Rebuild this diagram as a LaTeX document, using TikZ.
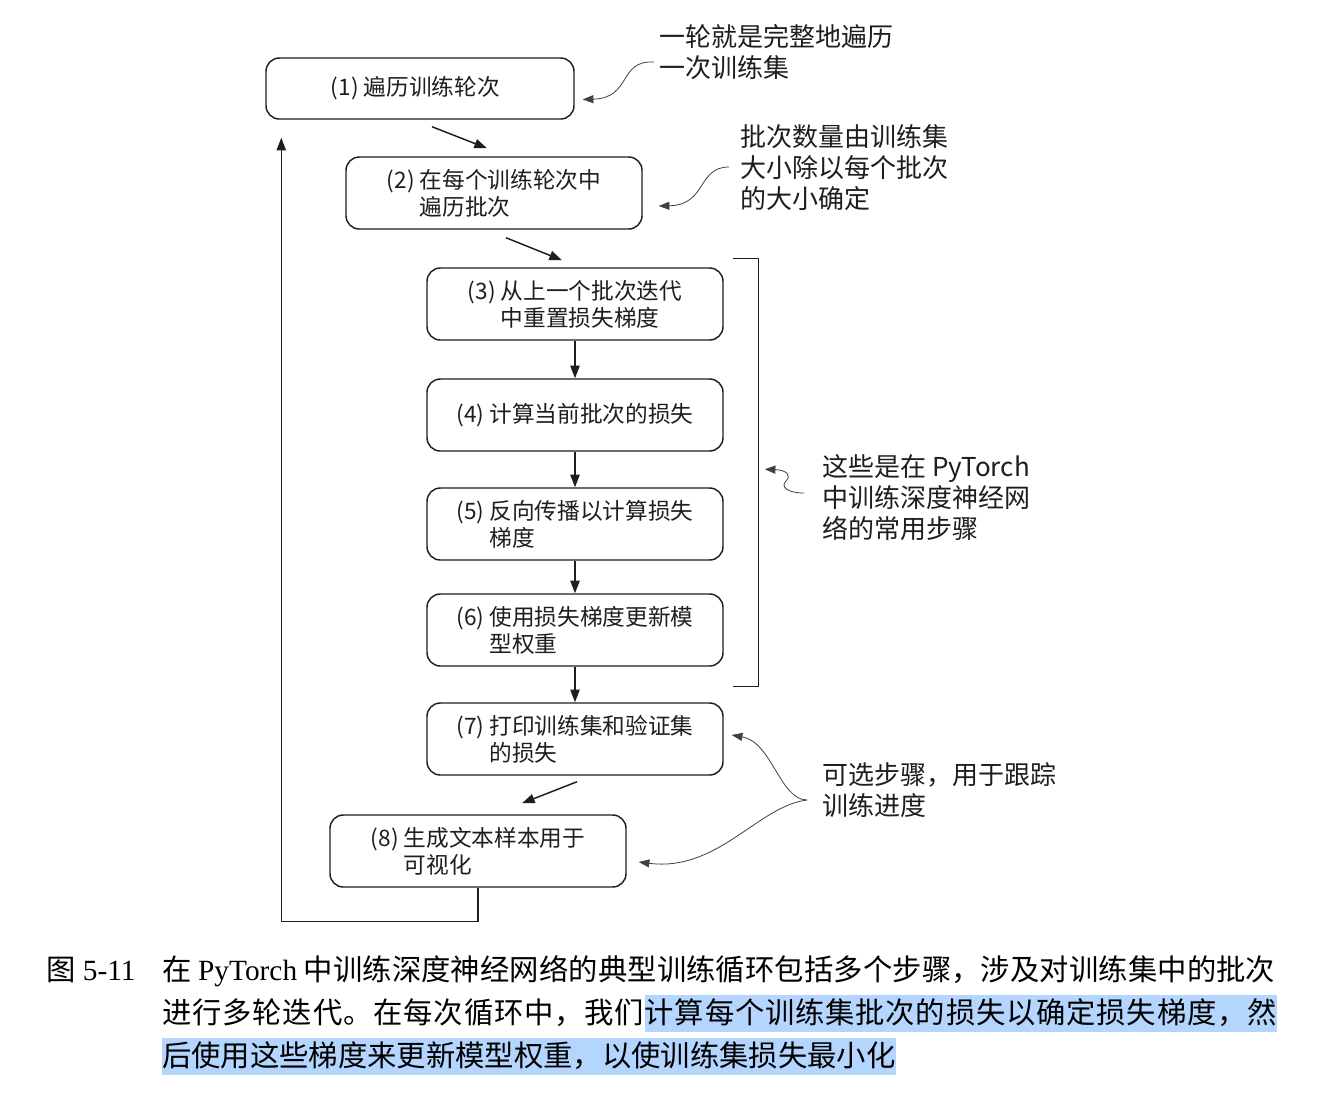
\documentclass[tikz,border=0pt]{standalone}
\usepackage{fontspec}
\setmainfont{Noto Sans CJK SC}
\newfontfamily\serifl{Liberation Serif}
\newfontfamily\cjk{Noto Sans CJK SC}
\usetikzlibrary{arrows.meta,calc}
\definecolor{hl}{HTML}{B4D5FE}
\definecolor{ink}{HTML}{1E1E1E}
\def\spreadit#1{\ifx#1\relax\else#1\hskip 0pt plus 1fil\expandafter\spreadit\fi}
\newcommand\justline[2]{\hbox to #1{\spreadit #2\relax\unskip}}
\tikzset{
  stepbox/.style={draw=ink, line width=1.1pt, rounded corners=10pt,
    minimum width=222pt, minimum height=54pt, align=left, inner sep=0pt,
    text=ink, font=\fontsize{17pt}{20.25pt}\selectfont},
  arr/.style={draw=ink, line width=1.1pt, -{Triangle[length=9.5pt,width=7pt]}},
  note/.style={draw=ink!85, line width=0.6pt, -{Triangle[length=8pt,width=6pt]}},
  ann/.style={anchor=west, align=left, inner sep=0pt, text=ink,
    font=\fontsize{19.5pt}{23.25pt}\selectfont},
  captext/.style={anchor=west, inner sep=0pt, text height=21.5pt, text depth=6.25pt,
    text=black, font=\fontsize{22pt}{32pt}\selectfont},
}
\begin{document}
\begin{tikzpicture}[x=0.75pt, y=-0.75pt]
\useasboundingbox[fill=white] (0,0) rectangle (1338,1104);

% step boxes
\node[stepbox, minimum width=231pt, minimum height=45.75pt] (b1) at (420,88.5) {(1) 遍历训练轮次\hspace*{7pt}};
\node[stepbox] (b2) at (494,193) {(2) 在每个训练轮次中\\\hphantom{(2)\ }遍历批次};
\node[stepbox] (b3) at (575,304) {(3) 从上一个批次迭代\\\hphantom{(3)\ }中重置损失梯度};
\node[stepbox] (b4) at (575,415) {(4) 计算当前批次的损失};
\node[stepbox] (b5) at (575,524) {(5) 反向传播以计算损失\\\hphantom{(5)\ }梯度};
\node[stepbox] (b6) at (575,630) {(6) 使用损失梯度更新模\\\hphantom{(6)\ }型权重};
\node[stepbox] (b7) at (575,739) {(7) 打印训练集和验证集\\\hphantom{(7)\ }的损失};
\node[stepbox] (b8) at (478,851) {(8) 生成文本样本用于\\\hphantom{(8)\ }可视化};

% flow arrows
\draw[arr] ($(b1.south)+(12,7)$) -- ($(b2.north)+(-7,-8)$);
\draw[arr] ($(b2.south)+(12,8)$) -- ($(b3.north)+(-13,-7)$);
\draw[arr] (b3.south) -- (b4.north);
\draw[arr] (b4.south) -- (b5.north);
\draw[arr] (b5.south) -- (b6.north);
\draw[arr] (b6.south) -- (b7.north);
\draw[arr] ($(b7.south)+(2,6)$) -- ($(b8.north)+(44,-11)$);
\draw[arr] (b8.south) -- ++(0,34) -| ($(b1.south west)+(16,18)$);

% bracket
\draw[draw=ink, line width=1.1pt] ($(b3.north east)+(9,-9)$) -- ++(26,0) coordinate (br1)
  |- ($(b6.south east)+(9,20)$);

% annotations
\node[ann] (a1) at (659,52.5) {一轮就是完整地遍历\\一次训练集};
\node[ann] (a2) at (740,168) {批次数量由训练集\\大小除以每个批次\\的大小确定};
\node[ann] (a3) at (822,497.5) {这些是在 PyTorch\\中训练深度神经网\\络的常用步骤};
\node[ann] (a4) at (822,790) {可选步骤，用于跟踪\\训练进度};

\coordinate (s1) at (654,62);
\coordinate (s2) at (729,167);
\coordinate (s3) at (804,493);
\coordinate (s4) at (807,800);
\draw[note] (s1) .. controls (618,60) and (632,98) .. ($(b1.east)+(8,11)$);
\draw[note] (s2) .. controls (697,167) and (707,205) .. ($(b2.east)+(16,13)$);
\draw[note] (s3) .. controls (788,493) and (780,487) .. (786,481)
  .. controls (792,475) and (786,470) .. ($(br1)+(6,211)$);
\draw[note] (s4) .. controls (780,800) and (772,742) .. ($(b7.east)+(8,-4)$);
\draw[note] (s4) .. controls (758,806) and (718,872) .. ($(b8.east)+(12,11)$);

% caption
\node[captext] (c0) at (46,970) {图{\serifl\ 5-11}};
\node[captext] (c1) at (162,970) {\hbox to 834.75pt{\spreadit 在\relax\unskip\ {\serifl PyTorch}\ \spreadit 中训练深度神经网络的典型训练循环包括多个步骤，涉及对训练集中的批次\relax\unskip}};
\node[captext] (c2a) at (162,1013) {\justline{361.5pt}{进行多轮迭代。在每次循环中，我们}};
\node[captext, fill=hl] (c2b) at (c2a.east) {\justline{474pt}{计算每个训练集批次的损失以确定损失梯度，然}};
\node[captext, fill=hl] (c3) at (162,1056) {后使用这些梯度来更新模型权重，以使训练集损失最小化};
\end{tikzpicture}
\end{document}
